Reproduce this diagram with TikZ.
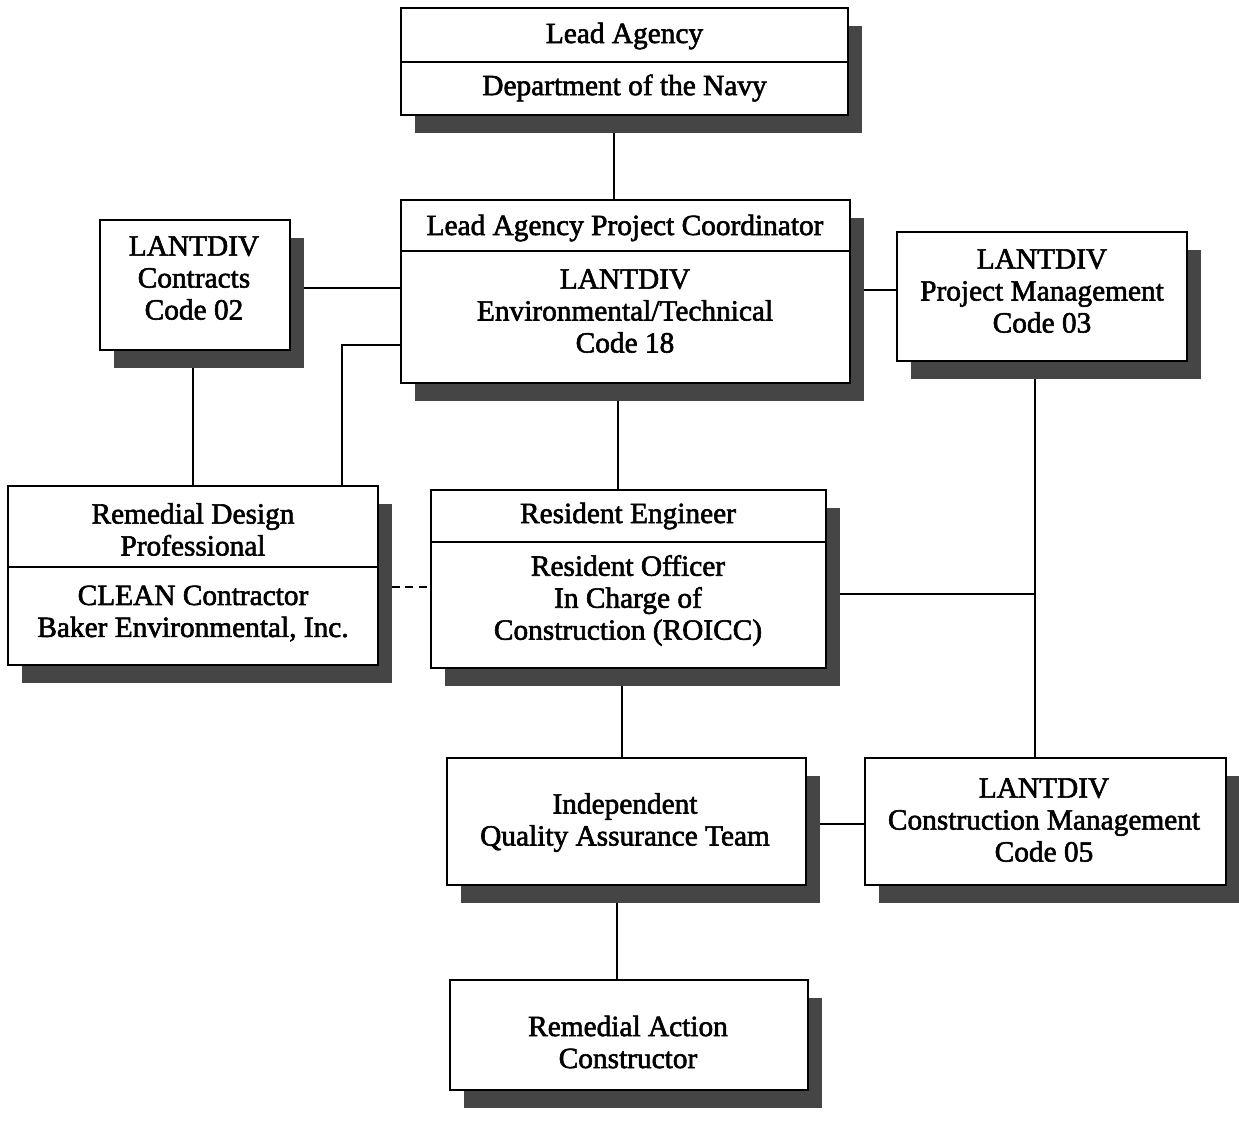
\documentclass[tikz,border=0pt]{standalone}
\usepackage{fontspec}
\setmainfont{Liberation Serif}[FakeBold=2]
\usetikzlibrary{shadows,backgrounds}
\definecolor{shadowgray}{gray}{0.27}
\tikzset{
  box/.style={draw, line width=1.3pt, fill=white, inner sep=0pt,
    general shadow={fill=shadowgray, shadow xshift=0.28cm, shadow yshift=-0.36cm}},
  txt/.style={align=center, inner sep=0pt, font=\fontsize{16.7}{18.2}\selectfont},
  conn/.style={line width=1.3pt},
  dashconn/.style={line width=1.3pt, dash pattern=on 4.5pt off 3pt},
  divider/.style={line width=1.3pt}
}
\begin{document}
\begin{tikzpicture}[x=0.02cm,y=-0.02cm]
\useasboundingbox (0,0) rectangle (1239,1128);
% boxes
\node[box, minimum width=8.94cm, minimum height=2.14cm] (la) at (624.5,61.5) {};
\node[box, minimum width=8.98cm, minimum height=3.66cm] (pc) at (625.5,291.5) {};
\node[box, minimum width=3.8cm, minimum height=2.6cm] (con) at (195,285) {};
\node[box, minimum width=5.8cm, minimum height=2.58cm] (pm) at (1042,296.5) {};
\node[box, minimum width=7.4cm, minimum height=3.58cm] (rdp) at (193,575.5) {};
\node[box, minimum width=7.9cm, minimum height=3.56cm] (re) at (628.5,579) {};
\node[box, minimum width=7.18cm, minimum height=2.54cm] (qa) at (626.5,821.5) {};
\node[box, minimum width=7.22cm, minimum height=2.54cm] (cm) at (1045.5,821.5) {};
\node[box, minimum width=7.16cm, minimum height=2.2cm] (rac) at (629,1035) {};
% dividers
\coordinate (d1) at (0,62);
\coordinate (d2) at (0,251);
\coordinate (d3) at (0,567);
\coordinate (d4) at (0,542);
\draw[divider] (la.west |- d1) -- (la.east |- d1);
\draw[divider] (pc.west |- d2) -- (pc.east |- d2);
\draw[divider] (rdp.west |- d3) -- (rdp.east |- d3);
\draw[divider] (re.west |- d4) -- (re.east |- d4);
% texts
\node[txt] (la-t) at (624.5,36) {Lead Agency};
\node[txt] (la-b) at (624.5,88) {Department of the Navy};
\node[txt] (pc-t) at (625,228) {Lead Agency Project Coordinator};
\node[txt] (pc-b) at (625,311) {LANTDIV\\Environmental/Technical\\Code 18};
\node[txt] (con-t) at (194,278) {LANTDIV\\Contracts\\Code 02};
\node[txt] (pm-t) at (1042,291) {LANTDIV\\Project Management\\Code 03};
\node[txt] (rdp-t) at (193,529.5) {Remedial Design\\Professional};
\node[txt] (rdp-b) at (193,613.5) {CLEAN Contractor\\Baker Environmental, Inc.};
\node[txt] (re-t) at (628,516) {Resident Engineer};
\node[txt] (re-b) at (628,600.5) {Resident Officer\\In Charge of\\Construction (ROICC)};
\node[txt] (qa-t) at (625,822.5) {Independent\\Quality Assurance Team};
\node[txt] (cm-t) at (1044,820) {LANTDIV\\Construction Management\\Code 05};
\node[txt] (rac-t) at (628,1042) {Remedial Action\\Constructor};
% connector guides
\coordinate (xa) at (614,0);
\coordinate (xb) at (193,0);
\coordinate (xc) at (342,0);
\coordinate (xd) at (618,0);
\coordinate (xe) at (1035,0);
\coordinate (xf) at (622,0);
\coordinate (xg) at (617,0);
\coordinate (h1) at (0,288);
\coordinate (h2) at (0,290);
\coordinate (h3) at (0,345);
\coordinate (h4) at (0,587);
\coordinate (h5) at (0,594);
\coordinate (h6) at (0,824);
\begin{scope}[on background layer]
\draw[conn] (la.south -| xa) -- (pc.north -| xa);
\draw[conn] (con.east |- h1) -- (pc.west |- h1);
\draw[conn] (pc.east |- h2) -- (pm.west |- h2);
\draw[conn] (pc.west |- h3) -| (rdp.north -| xc);
\draw[conn] (con.south -| xb) -- (rdp.north -| xb);
\draw[conn] (pc.south -| xd) -- (re.north -| xd);
\draw[dashconn] (rdp.east |- h4) -- (re.west |- h4);
\draw[conn] (pm.south -| xe) -- (cm.north -| xe);
\coordinate (jn) at (h5 -| xe);
\draw[conn] (re.east |- h5) -- (jn);
\draw[conn] (re.south -| xf) -- (qa.north -| xf);
\draw[conn] (qa.east |- h6) -- (cm.west |- h6);
\draw[conn] (qa.south -| xg) -- (rac.north -| xg);
\end{scope}
\end{tikzpicture}
\end{document}
